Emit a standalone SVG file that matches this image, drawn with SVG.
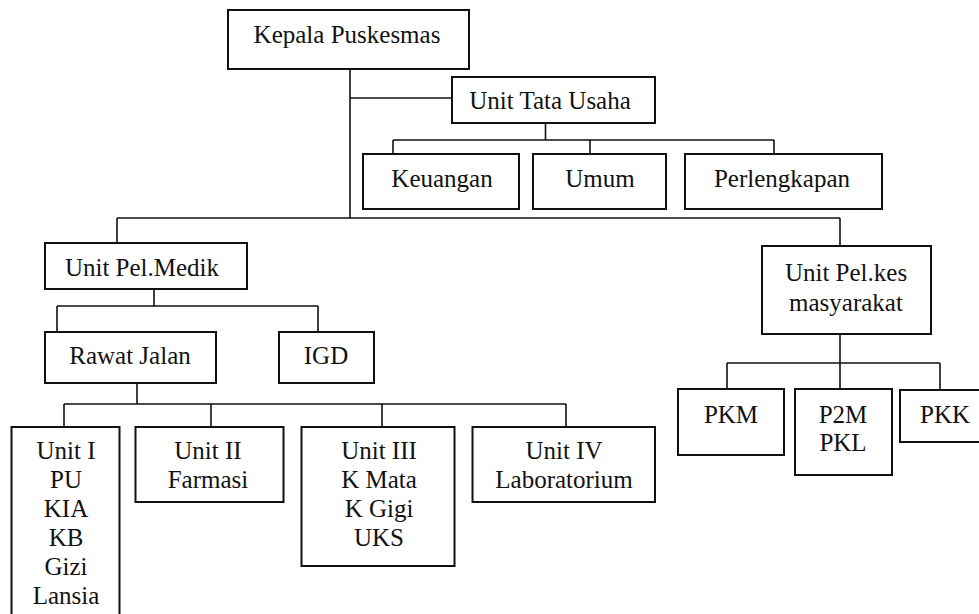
<svg xmlns="http://www.w3.org/2000/svg" width="979" height="614" viewBox="0 0 979 614">
<style>
  .box { fill: #ffffff; stroke: #111111; stroke-width: 2; }
  .ln { fill: none; stroke: #111111; stroke-width: 1.6; }
  text { font-family: "Liberation Serif", "Times New Roman", serif; font-size: 25px; fill: #111111; text-anchor: middle; }
</style>
<rect x="0" y="0" width="979" height="614" fill="#ffffff"/>
<g id="connectors">
  <path class="ln" d="M350 69 V218 M350 98 H452"/>
  <path class="ln" d="M545.5 123 V140 M393 140 H774 M393 140 V154 M590 140 V154 M774 140 V154"/>
  <path class="ln" d="M117 218 H840 M117 218 V243 M840 218 V246"/>
  <path class="ln" d="M154 289 V306 M57 306 H318 M57 306 V332 M318 306 V332"/>
  <path class="ln" d="M137 383 V404 M64 404 H566 M64 404 V427 M211 404 V427 M382 404 V427 M566 404 V427"/>
  <path class="ln" d="M840 334 V389 M727 363 H940 M727 363 V389 M940 363 V390"/>
</g>
<g id="kepala">
  <rect class="box" x="228" y="10" width="241" height="59"/>
  <text x="347" y="43">Kepala Puskesmas</text>
</g>
<g id="tata-usaha">
  <rect class="box" x="452" y="77" width="203" height="46"/>
  <text x="550" y="109">Unit Tata Usaha</text>
</g>
<g id="keuangan">
  <rect class="box" x="363" y="154" width="156" height="55"/>
  <text x="442" y="187">Keuangan</text>
</g>
<g id="umum">
  <rect class="box" x="533" y="154" width="133" height="55"/>
  <text x="600" y="187">Umum</text>
</g>
<g id="perlengkapan">
  <rect class="box" x="685" y="154" width="197" height="55"/>
  <text x="782" y="187">Perlengkapan</text>
</g>
<g id="pel-medik">
  <rect class="box" x="45" y="243" width="202" height="46"/>
  <text x="142" y="276">Unit Pel.Medik</text>
</g>
<g id="rawat-jalan">
  <rect class="box" x="45" y="332" width="171" height="51"/>
  <text x="130" y="364">Rawat Jalan</text>
</g>
<g id="igd">
  <rect class="box" x="279" y="332" width="95" height="51"/>
  <text x="326" y="364">IGD</text>
</g>
<g id="unit-1">
  <rect class="box" x="11.5" y="427" width="108" height="200"/>
  <text x="66" y="459">Unit I</text>
  <text x="66" y="488">PU</text>
  <text x="66" y="517">KIA</text>
  <text x="66" y="546">KB</text>
  <text x="66" y="575">Gizi</text>
  <text x="66" y="604">Lansia</text>
</g>
<g id="unit-2">
  <rect class="box" x="135.5" y="427" width="148" height="75"/>
  <text x="208" y="459">Unit II</text>
  <text x="208" y="488">Farmasi</text>
</g>
<g id="unit-3">
  <rect class="box" x="301.5" y="427" width="153" height="139"/>
  <text x="379" y="459">Unit III</text>
  <text x="379" y="488">K Mata</text>
  <text x="379" y="517">K Gigi</text>
  <text x="379" y="546">UKS</text>
</g>
<g id="unit-4">
  <rect class="box" x="472.5" y="427" width="182.5" height="75"/>
  <text x="564" y="459">Unit IV</text>
  <text x="564" y="488">Laboratorium</text>
</g>
<g id="pel-kes">
  <rect class="box" x="762" y="246" width="169" height="88"/>
  <text x="846" y="281">Unit Pel.kes</text>
  <text x="846" y="311">masyarakat</text>
</g>
<g id="pkm">
  <rect class="box" x="678" y="389" width="106" height="66"/>
  <text x="731" y="423">PKM</text>
</g>
<g id="p2m-pkl">
  <rect class="box" x="795" y="389" width="97" height="86"/>
  <text x="843" y="423">P2M</text>
  <text x="843" y="451">PKL</text>
</g>
<g id="pkk">
  <rect class="box" x="900" y="390" width="90" height="52"/>
  <text x="945" y="423">PKK</text>
</g>
</svg>
